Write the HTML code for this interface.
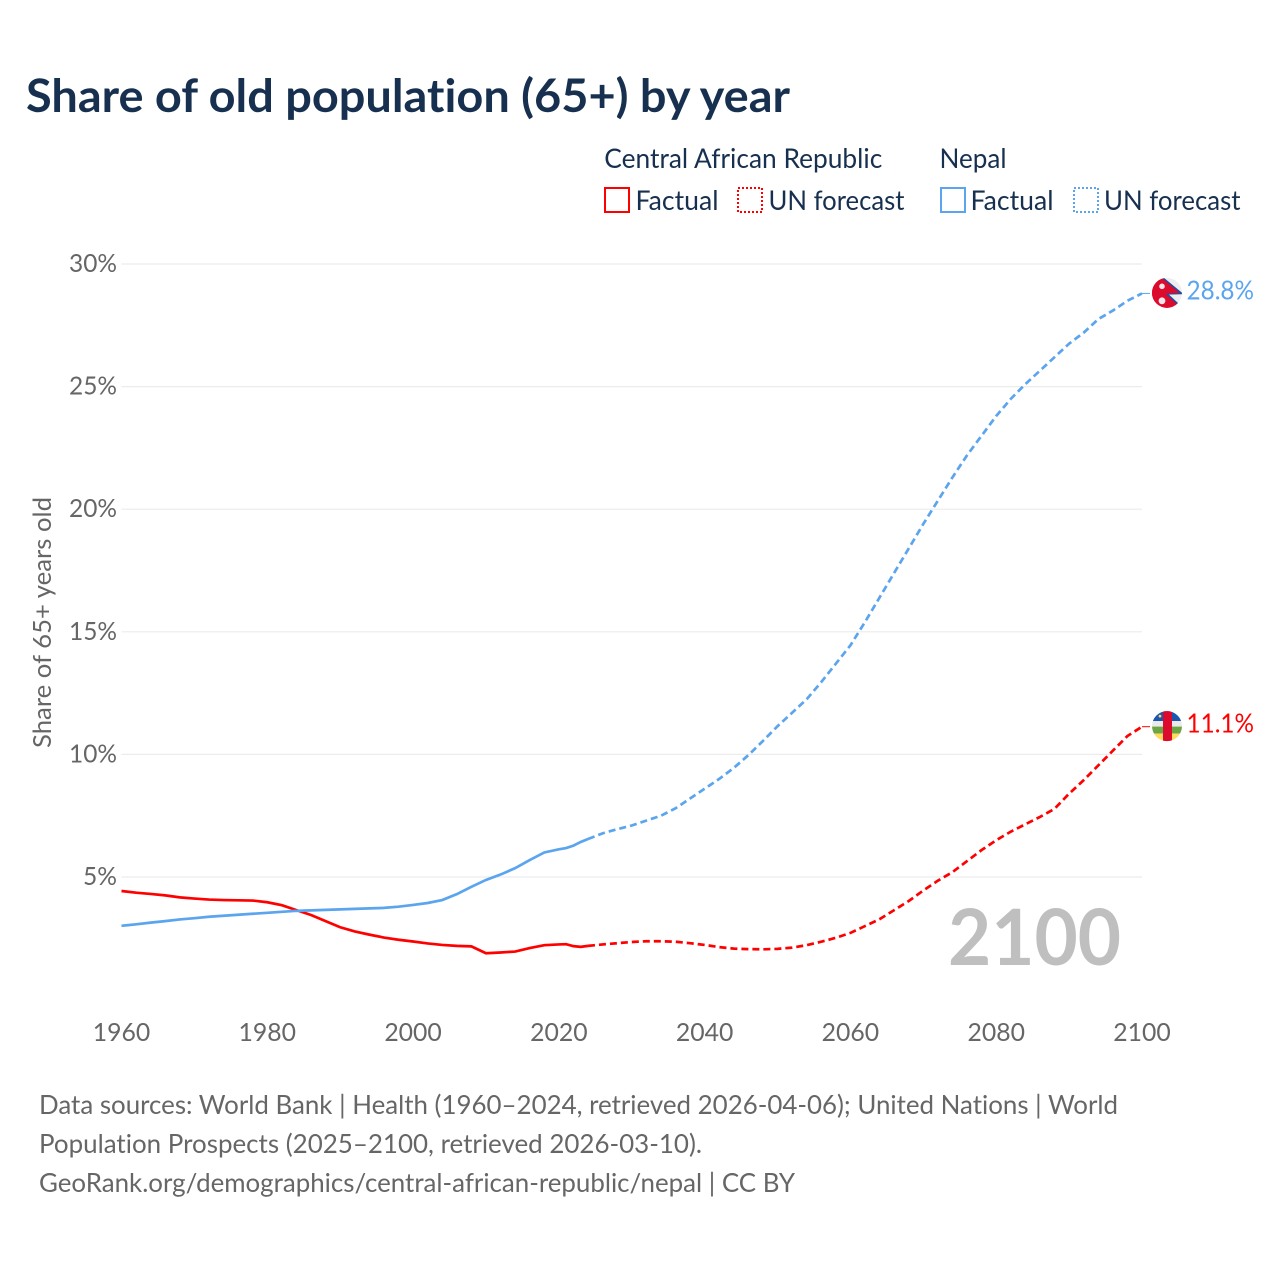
<!DOCTYPE html>
<html lang="en">
<head>
<meta charset="utf-8">
<title>Share of old population (65+) by year</title>
<style>
html,body{margin:0;padding:0;background:#fff;width:1280px;height:1280px;overflow:hidden}
svg{display:block}
text{font-family:"Lato","Carlito","Liberation Sans",sans-serif;font-variant-ligatures:none;font-feature-settings:"liga" 0,"dlig" 0,"kern" 1}
</style>
</head>
<body>
<svg id="chart" xmlns="http://www.w3.org/2000/svg" width="1280" height="1280" viewBox="0 0 1280 1280">
  <defs>
    <clipPath id="flag-clip"><circle cx="0" cy="0" r="15"/></clipPath>
  </defs>
  <rect x="0" y="0" width="1280" height="1280" fill="#fff"/>
  <text x="26" y="112" font-size="46" font-weight="700" fill="#17304f" textLength="764" lengthAdjust="spacingAndGlyphs">Share of old population (65+) by year</text>

  <g font-size="27" fill="#17304f">
    <text x="604.3" y="168" textLength="278" lengthAdjust="spacingAndGlyphs">Central African Republic</text>
    <text x="939.5" y="168" textLength="67" lengthAdjust="spacingAndGlyphs">Nepal</text>
    <g>
      <rect x="605" y="188" width="24" height="24" fill="none" stroke="#ff0000" stroke-width="2"/>
      <text x="635.5" y="210" textLength="83" lengthAdjust="spacingAndGlyphs">Factual</text>
    </g>
    <g>
      <rect x="738" y="188" width="24" height="24" fill="none" stroke="#ff0000" stroke-width="2" stroke-dasharray="2 2"/>
      <text x="768.5" y="210" textLength="136" lengthAdjust="spacingAndGlyphs">UN forecast</text>
    </g>
    <g>
      <rect x="941" y="188" width="24" height="24" fill="none" stroke="#5ba4ee" stroke-width="2"/>
      <text x="970.5" y="210" textLength="83" lengthAdjust="spacingAndGlyphs">Factual</text>
    </g>
    <g>
      <rect x="1074" y="188" width="24" height="24" fill="none" stroke="#5ba4ee" stroke-width="2" stroke-dasharray="2 2"/>
      <text x="1104" y="210" textLength="136.5" lengthAdjust="spacingAndGlyphs">UN forecast</text>
    </g>
  </g>

  <g id="grid"></g>
  <g id="y-axis"></g>
  <g id="x-axis"></g>
  <text transform="translate(51,748) rotate(-90)" font-size="25" fill="#666" textLength="251" lengthAdjust="spacingAndGlyphs">Share of 65+ years old</text>
  <text x="948" y="965" font-size="78" font-weight="700" fill="#bfbfbf" textLength="173" lengthAdjust="spacingAndGlyphs">2100</text>
  <g id="series"></g>

  <g id="flag-nepal">
    <g clip-path="url(#flag-clip)">
      <rect x="-16" y="-16" width="32" height="32" fill="#eeeeee"/>
      <path d="M-20,-20 L-5.5,-16 L14.5,0.6 L0,1 L14.5,14.5 L14.5,20 L-20,20 Z" fill="#dc0a2d" stroke="#1c4fa0" stroke-width="1.6"/>
      <path d="M-20,-20 L-20,20 L14.5,20 L14.5,15.5 L-2.2,1 L12.6,0.2 L-6,-15.6 Z" fill="#dc0a2d"/>
      <circle cx="-5" cy="-6.5" r="2.8" fill="#f3e6e8"/>
      <circle cx="-5" cy="8" r="3.4" fill="#f3e6e8"/>
    </g>
  </g>
  <g id="flag-car">
    <g clip-path="url(#flag-clip)">
      <rect x="-16" y="-16" width="32" height="11" fill="#1c56ad"/>
      <rect x="-16" y="-5" width="32" height="5.5" fill="#eaeaea"/>
      <rect x="-16" y="0.5" width="32" height="7" fill="#6da544"/>
      <rect x="-16" y="7.5" width="32" height="9" fill="#ffda5c"/>
      <rect x="-4" y="-16" width="9" height="32" fill="#dc0a2d"/>
      <circle cx="-7" cy="-10" r="1.4" fill="#ffda5c"/>
    </g>
  </g>
  <text id="label-nepal" x="1186.5" font-size="26" fill="#5ba4ee" textLength="67.5" lengthAdjust="spacingAndGlyphs"></text>
  <text id="label-car" x="1186.5" font-size="26" fill="#ff0000" textLength="67.5" lengthAdjust="spacingAndGlyphs"></text>

  <g font-size="26" fill="#666">
    <text x="39" y="1114" textLength="1079" lengthAdjust="spacingAndGlyphs">Data sources: World Bank | Health (1960–2024, retrieved 2026-04-06); United Nations | World</text>
    <text x="39" y="1153" textLength="663" lengthAdjust="spacingAndGlyphs">Population Prospects (2025–2100, retrieved 2026-03-10).</text>
    <text x="39" y="1192" textLength="756" lengthAdjust="spacingAndGlyphs">GeoRank.org/demographics/central-african-republic/nepal | CC BY</text>
  </g>
</svg>
<script>
const yTicks = [5, 10, 15, 20, 25, 30];
const xTicks = [1960, 1980, 2000, 2020, 2040, 2060, 2080, 2100];
const factualYears = [1960,1962,1964,1966,1968,1970,1972,1974,1976,1978,1980,1982,1984,1986,1988,1990,1992,1994,1996,1998,2000,2002,2004,2006,2008,2010,2012,2014,2016,2018,2020,2021,2022,2023,2024];
const carFactual = [4.43,4.36,4.31,4.25,4.17,4.12,4.08,4.06,4.05,4.04,3.97,3.85,3.65,3.45,3.2,2.95,2.78,2.65,2.53,2.44,2.37,2.29,2.23,2.19,2.17,1.89,1.92,1.96,2.1,2.22,2.25,2.26,2.18,2.15,2.19];
const nepalFactual = [3.01,3.07,3.14,3.2,3.27,3.32,3.38,3.42,3.46,3.5,3.54,3.58,3.62,3.64,3.66,3.68,3.7,3.72,3.74,3.79,3.86,3.94,4.06,4.3,4.6,4.88,5.1,5.36,5.69,6.0,6.13,6.18,6.28,6.43,6.55];
const forecastYears = [2024,2026,2028,2030,2032,2034,2036,2038,2040,2042,2044,2046,2048,2050,2052,2054,2056,2058,2060,2062,2064,2066,2068,2070,2072,2074,2076,2078,2080,2082,2084,2086,2088,2090,2092,2094,2096,2098,2100];
const carForecast = [2.19,2.25,2.3,2.35,2.38,2.38,2.36,2.3,2.23,2.14,2.08,2.06,2.05,2.07,2.12,2.22,2.36,2.52,2.72,3.0,3.28,3.65,4.02,4.45,4.85,5.2,5.65,6.1,6.5,6.85,7.15,7.45,7.78,8.4,8.95,9.55,10.15,10.75,11.13];
const nepalForecast = [6.55,6.78,6.95,7.1,7.3,7.5,7.8,8.2,8.6,9.0,9.45,9.97,10.55,11.15,11.7,12.25,12.95,13.7,14.45,15.4,16.4,17.4,18.4,19.4,20.35,21.3,22.2,23.0,23.8,24.5,25.1,25.65,26.2,26.75,27.2,27.75,28.1,28.5,28.8];

const NS = 'http://www.w3.org/2000/svg';
const xScale = function (year) { return 121.5 + (year - 1960) * (1142 - 121.5) / 140; };
const yScale = function (value) { return 999.6 - value * 24.52; };
const linePath = function (years, values) {
  return years.map(function (year, i) {
    return (i ? 'L' : 'M') + xScale(year).toFixed(2) + ',' + yScale(values[i]).toFixed(2);
  }).join(' ');
};

const grid = document.getElementById('grid');
const yAxis = document.getElementById('y-axis');
const xAxis = document.getElementById('x-axis');
const series = document.getElementById('series');

yTicks.forEach(function (tick) {
  const line = document.createElementNS(NS, 'line');
  
  
  line.setAttribute('x1', xScale(1960));
  line.setAttribute('x2', xScale(2100));
  line.setAttribute('y1', yScale(tick));
  line.setAttribute('y2', yScale(tick));
  line.setAttribute('stroke', '#ececec');
  line.setAttribute('stroke-width', '1.2');
  grid.appendChild(line);

  const label = document.createElementNS(NS, 'text');
  
  
  label.setAttribute('x', 117);
  label.setAttribute('y', yScale(tick) + 8);
  label.setAttribute('text-anchor', 'end');
  label.setAttribute('font-size', '25');
  label.setAttribute('fill', '#666');
  label.setAttribute('textLength', tick < 10 ? 34 : 48);
  label.setAttribute('lengthAdjust', 'spacingAndGlyphs');
  label.textContent = tick + '%';
  yAxis.appendChild(label);
});

xTicks.forEach(function (tick) {
  const label = document.createElementNS(NS, 'text');
  
  
  label.setAttribute('x', xScale(tick));
  label.setAttribute('y', 1041);
  label.setAttribute('text-anchor', 'middle');
  label.setAttribute('font-size', '25');
  label.setAttribute('fill', '#666');
  label.setAttribute('textLength', 57.5);
  label.setAttribute('lengthAdjust', 'spacingAndGlyphs');
  label.textContent = tick;
  xAxis.appendChild(label);
});

const carFactualLine = document.createElementNS(NS, 'path');


carFactualLine.setAttribute('d', linePath(factualYears, carFactual));
carFactualLine.setAttribute('fill', 'none');
carFactualLine.setAttribute('stroke', '#ff0000');
carFactualLine.setAttribute('stroke-width', '2.7');
series.appendChild(carFactualLine);

const carForecastLine = document.createElementNS(NS, 'path');


carForecastLine.setAttribute('d', linePath(forecastYears, carForecast));
carForecastLine.setAttribute('fill', 'none');
carForecastLine.setAttribute('stroke', '#ff0000');
carForecastLine.setAttribute('stroke-width', '2.7');
carForecastLine.setAttribute('stroke-dasharray', '7 4');
series.appendChild(carForecastLine);

const nepalFactualLine = document.createElementNS(NS, 'path');


nepalFactualLine.setAttribute('d', linePath(factualYears, nepalFactual));
nepalFactualLine.setAttribute('fill', 'none');
nepalFactualLine.setAttribute('stroke', '#5ba4ee');
nepalFactualLine.setAttribute('stroke-width', '2.7');
series.appendChild(nepalFactualLine);

const nepalForecastLine = document.createElementNS(NS, 'path');


nepalForecastLine.setAttribute('d', linePath(forecastYears, nepalForecast));
nepalForecastLine.setAttribute('fill', 'none');
nepalForecastLine.setAttribute('stroke', '#5ba4ee');
nepalForecastLine.setAttribute('stroke-width', '2.7');
nepalForecastLine.setAttribute('stroke-dasharray', '7 4');
series.appendChild(nepalForecastLine);

const nepalEnd = nepalForecast[nepalForecast.length - 1];
const carEnd = carForecast[carForecast.length - 1];

const nepalLeader = document.createElementNS(NS, 'line');


nepalLeader.setAttribute('x1', xScale(2100));
nepalLeader.setAttribute('x2', xScale(2100) + 8);
nepalLeader.setAttribute('y1', yScale(nepalEnd));
nepalLeader.setAttribute('y2', yScale(nepalEnd));
nepalLeader.setAttribute('stroke', '#5ba4ee');
nepalLeader.setAttribute('stroke-width', '1');
series.appendChild(nepalLeader);

const carLeader = document.createElementNS(NS, 'line');


carLeader.setAttribute('x1', xScale(2100));
carLeader.setAttribute('x2', xScale(2100) + 8);
carLeader.setAttribute('y1', yScale(carEnd));
carLeader.setAttribute('y2', yScale(carEnd));
carLeader.setAttribute('stroke', '#ff0000');
carLeader.setAttribute('stroke-width', '1');
series.appendChild(carLeader);

document.getElementById('flag-nepal').setAttribute('transform', 'translate(1167,' + (yScale(nepalEnd) - 0.6) + ')');
document.getElementById('flag-car').setAttribute('transform', 'translate(1167,' + (yScale(carEnd) - 0.6) + ')');

const labelNepal = document.getElementById('label-nepal');
labelNepal.setAttribute('y', yScale(nepalEnd) + 6);
labelNepal.textContent = nepalEnd.toFixed(1) + '%';
const labelCar = document.getElementById('label-car');
labelCar.setAttribute('y', yScale(carEnd) + 6);
labelCar.textContent = carEnd.toFixed(1) + '%';
</script>
</body>
</html>
